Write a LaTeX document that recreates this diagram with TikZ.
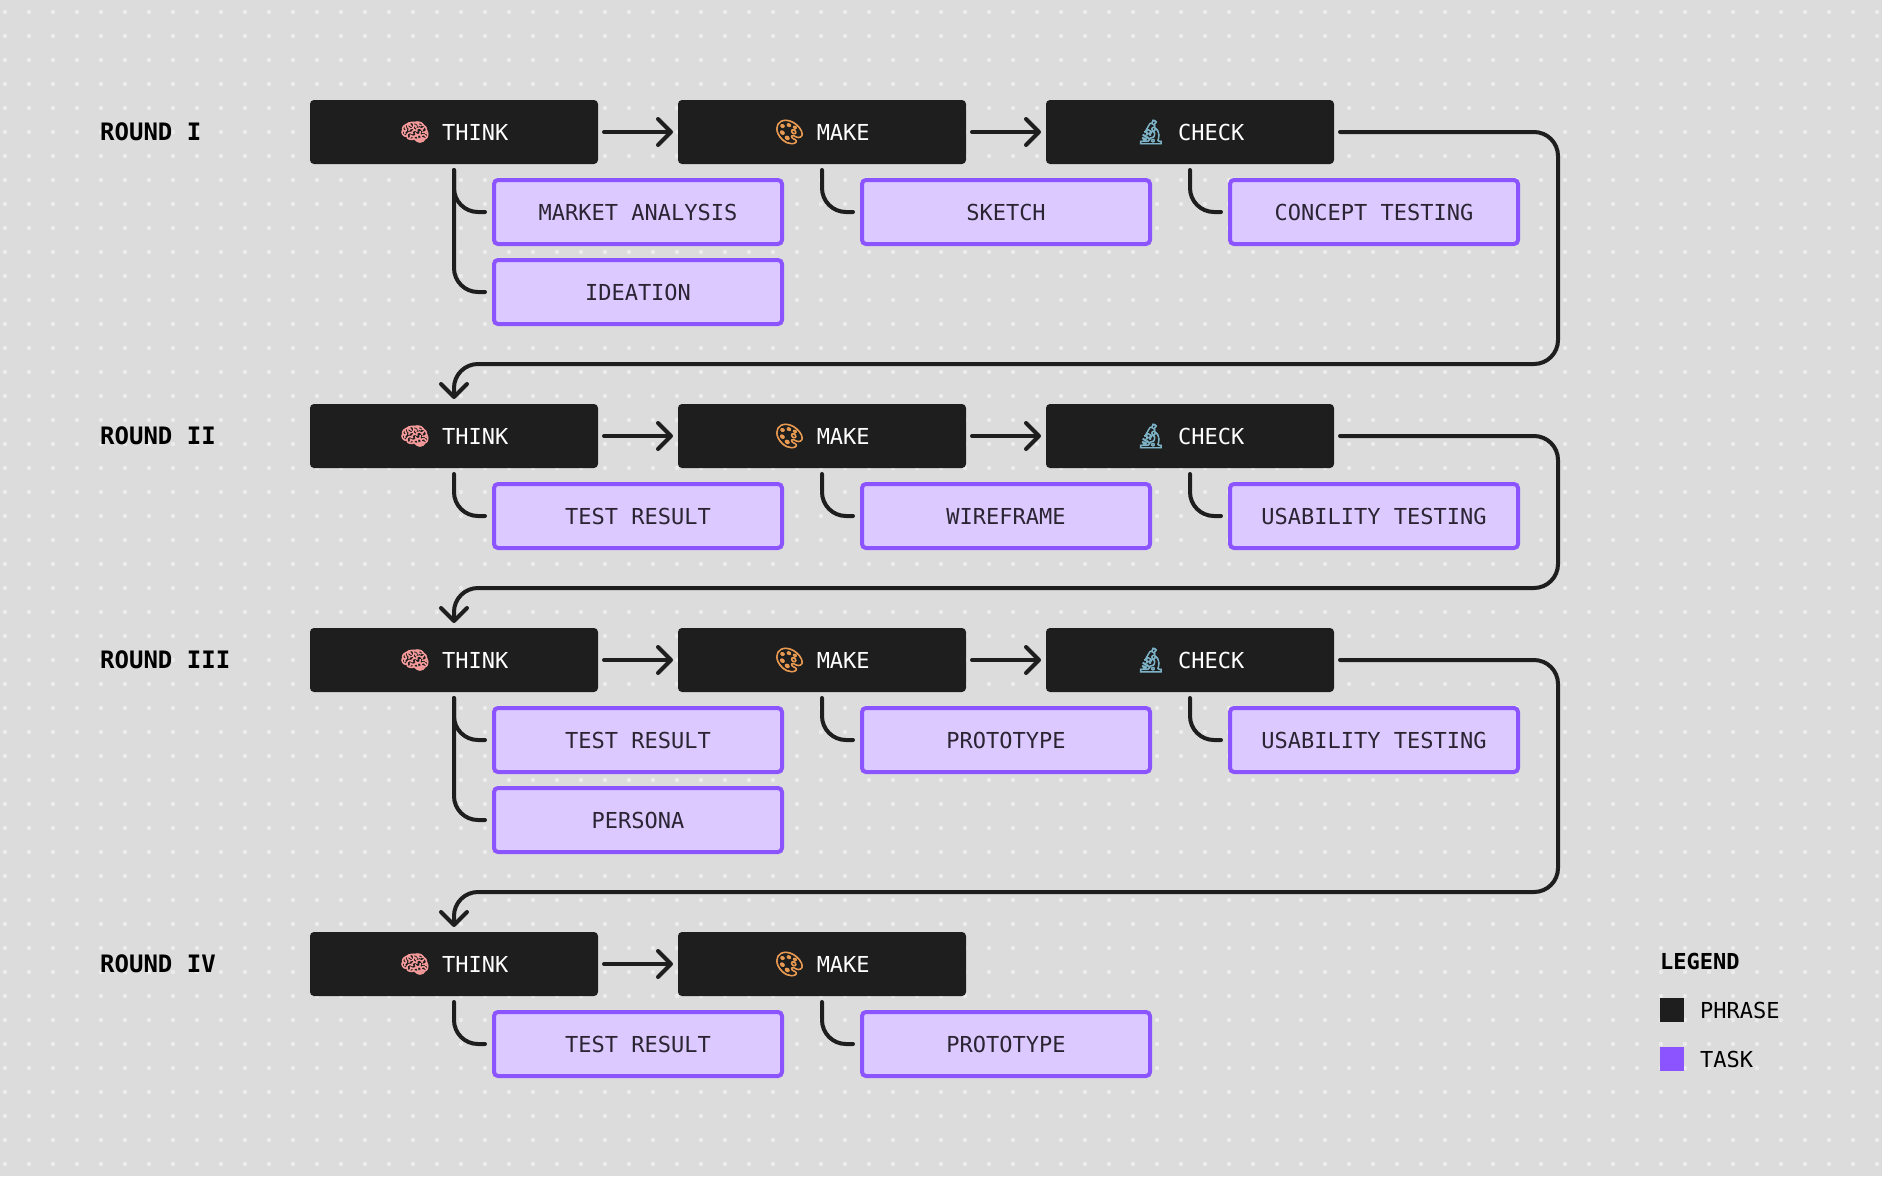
\documentclass[tikz,border=0pt]{standalone}
\usepackage{fontspec}
\usetikzlibrary{positioning,arrows.meta}
\setmonofont{DejaVu Sans Mono}
\newfontfamily\emojifont[FakeBold=2.5]{Noto Emoji}

\definecolor{paper}{HTML}{DCDCDC}
\definecolor{speck}{HTML}{ECECEC}
\definecolor{ink}{HTML}{1E1E1E}
\definecolor{taskedge}{HTML}{8B54FF}
\definecolor{taskfill}{HTML}{DCC9FF}
\definecolor{tasktext}{HTML}{2A2433}
\definecolor{brainpink}{HTML}{F59A9A}
\definecolor{paletteorange}{HTML}{E99A52}
\definecolor{scopeblue}{HTML}{7DB2C6}

\newcommand{\phrasethink}{{\fontsize{24}{24}\emojifont\textcolor{brainpink}{🧠}}\hspace{12pt}THINK}
\newcommand{\phrasemake}{{\fontsize{24}{24}\emojifont\textcolor{paletteorange}{🎨}}\hspace{12pt}MAKE}
\newcommand{\phrasecheck}{{\fontsize{24}{24}\emojifont\textcolor{scopeblue}{🔬}}\hspace{12pt}CHECK}

\begin{document}
\begin{tikzpicture}
  [x=1pt, y=-1pt,
    every node/.style={font=\ttfamily\fontsize{22}{26}\selectfont},
    phrase/.style={fill=ink, text=white, rounded corners=4pt, minimum width=288pt,
      minimum height=64pt, inner sep=0pt, outer sep=0pt},
    task/.style={draw=taskedge, line width=4pt, fill=taskfill, text=tasktext, rounded corners=4pt,
      minimum width=288pt, minimum height=64pt, inner sep=0pt},
    roundname/.style={anchor=west, inner sep=0pt, text=black, font=\ttfamily\bfseries\fontsize{24}{26}\selectfont},
    legendname/.style={anchor=west, inner sep=0pt, text=black},
    swatch/.style={minimum size=24pt, inner sep=0pt, outer sep=0pt, anchor=north west},
    next/.style={draw=ink, line width=4pt, line cap=round, shorten <=6pt, shorten >=5pt,
      -{Straight Barb[length=13pt, width=26pt, round]}},
    branch/.style={draw=ink, line width=4pt, line cap=round, rounded corners=24pt,
      shorten <=6pt, shorten >=7pt},
    loopback/.style={draw=ink, line width=4pt, line cap=round, rounded corners=24pt,
      shorten <=6pt, shorten >=5pt, -{Straight Barb[length=13pt, width=26pt, round]}},
  ]

  \useasboundingbox[fill=paper] (0,0) rectangle (1882,1176);
  \foreach \i in {0,...,78}
    \foreach \j in {0,...,48}
      \fill[speck] (5+24*\i,12+24*\j) circle (2.2pt);

  % round 1
  \node[roundname] (round1) at (100,132) {ROUND I};
  \node[phrase] (think1) at (454,132) {\phrasethink};
  \node[phrase, right=80pt of think1] (make1) {\phrasemake};
  \node[phrase, right=80pt of make1] (check1) {\phrasecheck};
  \node[task, below=14pt of think1, xshift=184pt] (market1) {MARKET ANALYSIS};
  \node[task, below=12pt of market1] (ideation1) {IDEATION};
  \node[task, below=14pt of make1, xshift=184pt] (sketch1) {SKETCH};
  \node[task, below=14pt of check1, xshift=184pt] (concept1) {CONCEPT TESTING};

  % round 2
  \node[roundname] (round2) at (100,436) {ROUND II};
  \node[phrase] (think2) at (454,436) {\phrasethink};
  \node[phrase, right=80pt of think2] (make2) {\phrasemake};
  \node[phrase, right=80pt of make2] (check2) {\phrasecheck};
  \node[task, below=14pt of think2, xshift=184pt] (result2) {TEST RESULT};
  \node[task, below=14pt of make2, xshift=184pt] (wireframe2) {WIREFRAME};
  \node[task, below=14pt of check2, xshift=184pt] (usability2) {USABILITY TESTING};

  % round 3
  \node[roundname] (round3) at (100,660) {ROUND III};
  \node[phrase] (think3) at (454,660) {\phrasethink};
  \node[phrase, right=80pt of think3] (make3) {\phrasemake};
  \node[phrase, right=80pt of make3] (check3) {\phrasecheck};
  \node[task, below=14pt of think3, xshift=184pt] (result3) {TEST RESULT};
  \node[task, below=12pt of result3] (persona3) {PERSONA};
  \node[task, below=14pt of make3, xshift=184pt] (prototype3) {PROTOTYPE};
  \node[task, below=14pt of check3, xshift=184pt] (usability3) {USABILITY TESTING};

  % round 4
  \node[roundname] (round4) at (100,964) {ROUND IV};
  \node[phrase] (think4) at (454,964) {\phrasethink};
  \node[phrase, right=80pt of think4] (make4) {\phrasemake};
  \node[task, below=14pt of think4, xshift=184pt] (result4) {TEST RESULT};
  \node[task, below=14pt of make4, xshift=184pt] (prototype4) {PROTOTYPE};

  % legend
  \node[legendname, font=\ttfamily\bfseries\fontsize{22}{26}\selectfont] (legendtitle) at (1660,961) {LEGEND};
  \node[swatch, fill=ink] (swatchphrase) at (1660,998) {};
  \node[swatch, fill=taskedge] (swatchtask) at (1660,1047) {};
  \node[legendname, right=16pt of swatchphrase] (legendphrase) {PHRASE};
  \node[legendname, right=16pt of swatchtask] (legendtask) {TASK};

  % arrows along the rows
  \draw[next] (think1) -- (make1);
  \draw[next] (make1) -- (check1);
  \draw[next] (think2) -- (make2);
  \draw[next] (make2) -- (check2);
  \draw[next] (think3) -- (make3);
  \draw[next] (make3) -- (check3);
  \draw[next] (think4) -- (make4);

  % phrase to task
  \draw[branch] (think1.south) |- (market1.west);
  \draw[branch] (think1.south) |- (ideation1.west);
  \draw[branch] (make1.south) |- (sketch1.west);
  \draw[branch] (check1.south) |- (concept1.west);
  \draw[branch] (think2.south) |- (result2.west);
  \draw[branch] (make2.south) |- (wireframe2.west);
  \draw[branch] (check2.south) |- (usability2.west);
  \draw[branch] (think3.south) |- (result3.west);
  \draw[branch] (think3.south) |- (persona3.west);
  \draw[branch] (make3.south) |- (prototype3.west);
  \draw[branch] (check3.south) |- (usability3.west);
  \draw[branch] (think4.south) |- (result4.west);
  \draw[branch] (make4.south) |- (prototype4.west);

  % back to the next round
  \coordinate (turn1) at (1558,364);
  \coordinate (turn2) at (1558,588);
  \coordinate (turn3) at (1558,892);
  \draw[loopback] (check1.east) -| (turn1) -| (think2.north);
  \draw[loopback] (check2.east) -| (turn2) -| (think3.north);
  \draw[loopback] (check3.east) -| (turn3) -| (think4.north);
\end{tikzpicture}
\end{document}
